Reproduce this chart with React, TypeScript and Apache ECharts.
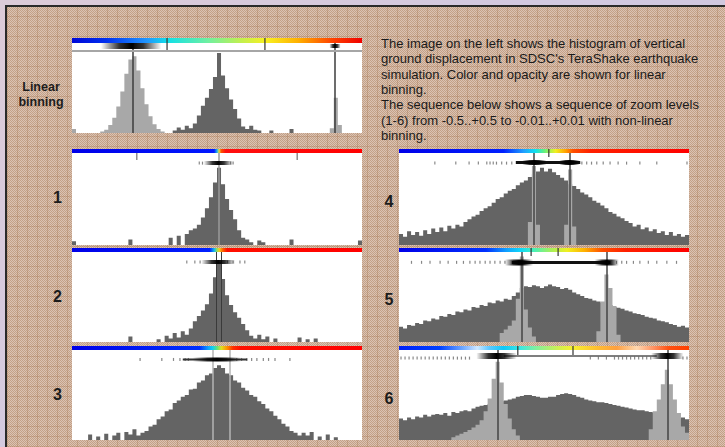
import React, { useEffect, useRef } from "react";
import * as echarts from "echarts";

const NB = 72; // bins per histogram

// ---------- histogram data (bin index 0..71) ----------
const TOP_DARK = [
  0,0,0,0,0,0,0,0,0,0, 0,0,0,0,0,0,0,0,0,0, 0,0,0,0,0,3,7,4,9,6,
  12,22,34,44,55,70,100,72,56,42, 30,18,8,5,9,4,3,0,0,3, 0,0,0,0,5,0,0,0,0,0,
  0,0,0,0,0,0,0,0,0,0, 0,0];
const TOP_LIGHT = [
  5,0,0,0,0,0,0,2,4,10, 19,33,52,74,92,96,78,56,36,21, 11,5,2,0,0,0,0,0,0,0,
  0,0,0,0,0,0,0,0,0,0, 0,0,0,0,0,0,0,0,0,0, 0,0,0,0,0,0,0,0,0,0,
  0,0,0,0,6,44,10,0,0,0, 0,0];
const P1_DARK = [
  4,0,0,0,0,0,0,0,0,0, 0,0,0,0,6,0,0,0,0,0, 0,0,0,0,8,0,10,0,12,16,
  18,22,30,40,52,68,84,66,50,38, 28,16,8,6,3,0,5,3,0,0, 0,0,0,0,6,0,0,0,0,0,
  0,0,0,0,0,0,0,0,0,0, 0,5];
const P2_DARK = [
  0,0,0,0,0,0,0,0,0,0, 0,0,0,0,6,0,0,0,0,0, 0,3,0,7,4,10,5,12,8,15,
  23,29,35,42,54,72,89,70,52,41, 33,27,20,13,7,4,8,3,6,0, 4,0,0,0,0,0,5,0,3,0,
  4,0,0,0,0,0,0,0,0,0, 0,0];
const P3_DARK = [
  0,0,0,0,6,0,4,0,7,0, 5,8,0,9,6,12,5,8,10,15, 17,23,26,32,34,41,44,48,50,56,
  57,64,66,72,74,80,83,80,74,72, 66,64,58,55,50,48,43,40,35,32, 27,23,18,15,10,8,5,8,5,9,
  0,4,0,6,0,3,0,0,0,0, 0,0];
const P4_DARK = [
  12,9,15,11,14,10,16,12,18,14, 19,15,21,18,22,20,25,28,31,33, 37,40,42,46,50,52,56,59,61,65,
  68,70,74,77,80,84,80,83,79,76, 73,70,66,64,61,57,55,52,48,46, 43,40,36,34,31,29,26,24,20,22,
  17,19,15,17,13,15,11,14,10,12, 9,11];
const P4_LIGHT = [
  0,0,0,0,0,0,0,0,0,0, 0,0,0,0,0,0,0,0,0,0, 0,0,0,0,0,0,0,0,0,0,
  0,0,25,86,22,0,0,0,0,0, 0,22,82,20,0,0,0,0,0,0, 0,0,0,0,0,0,0,0,0,0,
  0,0,0,0,0,0,0,0,0,0, 0,0];
const P5_DARK = [
  17,15,19,18,21,20,24,23,26,25, 29,28,31,30,34,33,36,35,39,38, 41,40,44,43,46,45,48,47,51,55,
  60,62,61,63,62,60,62,64,62,61, 59,60,58,55,53,51,49,48,46,45, 44,42,41,39,38,37,35,34,32,31,
  30,28,27,26,24,23,22,20,19,17, 18,16];
const P5_LIGHT = [
  0,0,0,0,0,0,0,0,0,0, 0,0,0,0,0,0,0,0,0,0, 0,0,0,0,0,10,14,18,24,48,
  95,36,16,6,0,0,0,0,0,0, 0,0,0,0,0,0,0,0,0,12, 45,75,60,40,8,0,0,0,0,0,
  0,0,0,0,0,0,0,0,0,0, 0,0];
const P6_DARK = [
  24,22,25,23,26,25,28,26,28,29, 28,30,27,31,30,32,33,32,35,37, 38,39,40,41,42,43,44,45,46,48,
  49,50,50,49,48,47,47,48,48,50, 51,52,51,50,48,47,45,44,43,42, 42,41,40,39,38,37,36,35,34,33,
  33,32,31,30,29,28,27,26,25,24, 25,23];
const P6_LIGHT = [
  0,0,0,0,0,0,0,0,0,0, 0,0,0,3,5,7,9,11,14,17, 22,32,46,68,87,64,40,24,12,5,
  0,0,0,0,0,0,0,0,0,0, 0,0,0,0,0,0,0,0,0,0, 0,0,0,0,0,0,0,0,0,0,
  0,0,12,32,45,62,78,62,45,30, 15,8];
const ZERO = new Array(NB).fill(0);

// vertical marker positions (bin units)
const TOP_LINES = [15.1, 65.3];
const P1_LINES = [36.5];
const P2_LINES = [35.7, 37.0];
const P3_LINES = [35.0, 39.2];
const P4_LINES = [33.5, 42.3];
const P5_LINES = [30.4, 51.6];
const P6_LINES = [24.4, 66.6];

// small tick dots in the opacity strip (bin units)
const P1_DOTS = [31.6, 32.4, 39.4, 40.0];
const P2_DOTS = [28.5, 30.5, 31.8, 38.6, 40, 41.7, 42.9];
const P3_DOTS = [16.9, 22.3, 25.2, 26.8, 28.1, 28.9, 40.9, 42.1, 43.4, 44.6, 45.9, 47.5, 48.8, 50.4, 54.1];
const P4_DOTS = [8.9, 14.1, 17.4, 19.7, 21.8, 22.6, 23.4, 24.2, 25.5, 26.7, 28, 45.4, 46.6, 47.8, 49.1, 50.7, 52.4, 54.4, 56.5, 59.8, 64, 71.5];
const P5_DOTS = [3.1, 5.6, 7.7, 10.2, 12.2, 14.3, 16, 17.6, 18.9, 20.1, 21.4, 22.6, 23.8, 25.1, 26.3, 54, 55.3, 56.5, 58.2, 59.8, 61.9, 64, 66.5, 68.9];
const P6_DOTS = [0.5, 1.5, 2.5, 3.5, 4.5, 5.5, 6.5, 7.5, 8.5, 9.5, 10.5, 11.5, 12.5, 13.5, 14.5, 15.5, 16.5, 17.5,
  47.5, 49.5, 51.5, 53.5, 54.5, 55.5, 56.5, 57.5, 58.5, 59.5, 60.5, 61.5, 62.5, 70.5, 71.5];

// colour bars (offset, colour)
const TOP_STOPS: [number, string][] = [[0, "#0008d8"], [0.12, "#0030f0"], [0.26, "#2098ff"], [0.33, "#10e0e8"], [0.47, "#70f0a0"], [0.58, "#c0f050"], [0.67, "#f8f020"], [0.78, "#ffb000"], [0.9, "#ff4000"], [1, "#f00000"]];
const P1_STOPS: [number, string][] = [[0, "#0000e8"], [0.49, "#0018ff"], [0.5, "#20b0f0"], [0.507, "#e0e040"], [0.515, "#ff5000"], [0.53, "#ff1010"], [1, "#ff0000"]];
const P2_STOPS: [number, string][] = [[0, "#0000e8"], [0.475, "#0020ff"], [0.49, "#10b8f0"], [0.5, "#90e060"], [0.508, "#f0d020"], [0.52, "#ff6000"], [0.535, "#ff1000"], [1, "#ff0000"]];
const P3_STOPS: [number, string][] = [[0, "#0000e8"], [0.44, "#0030ff"], [0.47, "#10a0ff"], [0.485, "#10d0f0"], [0.5, "#60e080"], [0.515, "#e0e020"], [0.535, "#ff9000"], [0.555, "#ff3000"], [0.58, "#ff1000"], [1, "#ff0000"]];
const P4_STOPS: [number, string][] = [[0, "#0000e8"], [0.36, "#0020ff"], [0.43, "#20a0ff"], [0.47, "#10e0f0"], [0.5, "#60f080"], [0.54, "#f0f020"], [0.575, "#ffa000"], [0.6, "#ff5000"], [0.66, "#ff2000"], [1, "#ff0000"]];
const P5_STOPS: [number, string][] = [[0, "#0000e8"], [0.3, "#0030ff"], [0.37, "#10a0ff"], [0.42, "#10d8f8"], [0.46, "#40f0c0"], [0.52, "#a0f060"], [0.58, "#f0f020"], [0.64, "#ffb000"], [0.7, "#ff5000"], [0.78, "#ff2000"], [1, "#ff0000"]];
const P6_STOPS: [number, string][] = [[0, "#0020f8"], [0.14, "#0040ff"], [0.22, "#70a8ff"], [0.27, "#d0e8ff"], [0.31, "#60c8ff"], [0.36, "#10c8f8"], [0.42, "#40e8e0"], [0.47, "#80f0a0"], [0.55, "#d0f050"], [0.6, "#f8f030"], [0.68, "#ffc030"], [0.75, "#ffa040"], [0.82, "#ffd8b0"], [0.88, "#ff9060"], [0.93, "#ff5010"], [1, "#ff4000"]];

const PARAGRAPH = [
  "The image on the left shows the histogram of vertical",
  "ground displacement in SDSC's TeraShake earthquake",
  "simulation. Color and opacity are shown for linear",
  "binning.",
  "The sequence below shows a sequence of zoom levels",
  "(1-6) from -0.5..+0.5 to -0.01..+0.01 with non-linear",
  "binning.",
];
const ROW_LABELS = ["1", "2", "3", "4", "5", "6"];

type Blob = { c: number; hw: number; h: number };
type Panel = {
  x: number; w: number; barY: number; barH: number; top: number; bottom: number; yMax: number;
  stripY: number; dotV: number; dark: number[]; light: number[]; lines: number[]; lineColor: string;
  lineWidth: number; dots: number[]; stops: [number, string][]; dividers: number[]; divEnd: number;
  blobs: Blob[]; bar?: { from: number; to: number; h: number; color: string };
};

const PANELS: Panel[] = [
  { x: 72, w: 290, barY: 38, barH: 5, top: 43, bottom: 133, yMax: 112.5, stripY: 46, dotV: 0,
    dark: TOP_DARK, light: TOP_LIGHT, lines: TOP_LINES, lineColor: "#3c3c3c", lineWidth: 1.5, dots: [],
    stops: TOP_STOPS, dividers: [23.6, 47.9], divEnd: 50, blobs: [{ c: 14.7, hw: 7.5, h: 6 }, { c: 65.3, hw: 1.4, h: 4 }] },
  { x: 72, w: 290, barY: 149, barH: 4, top: 153, bottom: 245, yMax: 100, stripY: 163, dotV: 89,
    dark: P1_DARK, light: ZERO, lines: P1_LINES, lineColor: "#9a9a9a", lineWidth: 1.5, dots: P1_DOTS,
    stops: P1_STOPS, dividers: [], divEnd: 0, blobs: [{ c: 36.3, hw: 3.6, h: 4 }] },
  { x: 72, w: 290, barY: 248, barH: 4, top: 252, bottom: 342, yMax: 100, stripY: 262, dotV: 89,
    dark: P2_DARK, light: ZERO, lines: P2_LINES, lineColor: "#3a3a3a", lineWidth: 1, dots: P2_DOTS,
    stops: P2_STOPS, dividers: [], divEnd: 0, blobs: [{ c: 36.3, hw: 4.2, h: 4 }] },
  { x: 72, w: 290, barY: 346, barH: 4, top: 350, bottom: 440, yMax: 100, stripY: 359.5, dotV: 89.5,
    dark: P3_DARK, light: ZERO, lines: P3_LINES, lineColor: "#b4b4b4", lineWidth: 1.5, dots: P3_DOTS,
    stops: P3_STOPS, dividers: [], divEnd: 0, blobs: [{ c: 36, hw: 6, h: 4 }],
    bar: { from: 27.5, to: 43.5, h: 2, color: "#333" } },
  { x: 399, w: 290, barY: 149, barH: 4, top: 153, bottom: 245, yMax: 100, stripY: 162.5, dotV: 89,
    dark: P4_DARK, light: P4_LIGHT, lines: P4_LINES, lineColor: "#454545", lineWidth: 1.5, dots: P4_DOTS,
    stops: P4_STOPS, dividers: [37.2], divEnd: 157, blobs: [{ c: 33.6, hw: 3, h: 5 }, { c: 42.3, hw: 2.5, h: 5 }],
    bar: { from: 29, to: 45, h: 3, color: "#111" } },
  { x: 399, w: 290, barY: 248, barH: 4, top: 252, bottom: 342, yMax: 100, stripY: 262.5, dotV: 88.5,
    dark: P5_DARK, light: P5_LIGHT, lines: P5_LINES, lineColor: "#454545", lineWidth: 1.5, dots: P5_DOTS,
    stops: P5_STOPS, dividers: [32.8, 39.5], divEnd: 256, blobs: [{ c: 29.8, hw: 3.5, h: 6 }, { c: 51.6, hw: 3, h: 6 }],
    bar: { from: 28, to: 52.5, h: 3, color: "#111" } },
  { x: 399, w: 290, barY: 346, barH: 4, top: 350, bottom: 440, yMax: 100, stripY: 356, dotV: 91,
    dark: P6_DARK, light: P6_LIGHT, lines: P6_LINES, lineColor: "#454545", lineWidth: 1.5, dots: P6_DOTS,
    stops: P6_STOPS, dividers: [29.5, 43.2], divEnd: 355, blobs: [{ c: 24.2, hw: 5, h: 6 }, { c: 66.6, hw: 4, h: 6 }],
    bar: { from: 26, to: 64, h: 1.5, color: "#555" } },
];

const FONT = "'Liberation Sans', Arial, Helvetica, sans-serif";
const DARK = "#646464";
const LIGHT = "#a8a8a8";

function px(p: Panel, u: number) {
  return p.x + (u * p.w) / NB;
}

// histogram as a seamless stepped area: bin i spans [i, i+1]
function stepData(vals: number[]) {
  const d: number[][] = vals.map((v, i) => [i, v]);
  d.push([NB, vals[NB - 1]]);
  return d;
}

function histSeries(i: number, vals: number[], color: string, z: number) {
  return {
    type: "line", xAxisIndex: i, yAxisIndex: i, step: "end", silent: true, z,
    showSymbol: false, symbol: "none", data: stepData(vals),
    lineStyle: { width: 0, opacity: 0 },
    areaStyle: { color, opacity: 1, origin: "start" },
  };
}

function buildOption() {
  const grid: any[] = [];
  const xAxis: any[] = [];
  const yAxis: any[] = [];
  const series: any[] = [];
  const graphic: any[] = [];

  PANELS.forEach((p, i) => {
    grid.push({ left: p.x, top: p.top, width: p.w, height: p.bottom - p.top, show: true,
      backgroundColor: "#ffffff", borderWidth: 0 });
    xAxis.push({ gridIndex: i, type: "value", min: 0, max: NB, show: false });
    yAxis.push({ gridIndex: i, type: "value", min: 0, max: p.yMax, show: false });
    series.push(histSeries(i, p.dark, DARK, 2));
    if (p.light.some((v) => v > 0)) series.push(histSeries(i, p.light, LIGHT, 3));
    series.push({
      type: "scatter", xAxisIndex: i, yAxisIndex: i, silent: true, symbol: "rect",
      symbolSize: [1.2, 3], itemStyle: { color: "#6a6a6a" }, z: 4,
      data: p.dots.map((u) => [u, p.dotV]),
      markLine: {
        silent: true, symbol: "none", label: { show: false }, animation: false,
        lineStyle: { color: p.lineColor, width: p.lineWidth, type: "solid" },
        data: p.lines.map((u) => ({ xAxis: u })),
      },
    });

    // colour bar
    graphic.push({
      type: "rect", z: 60, silent: true,
      shape: { x: p.x, y: p.barY, width: p.w, height: p.barH },
      style: { fill: new echarts.graphic.LinearGradient(0, 0, 1, 0,
        p.stops.map(([o, c]) => ({ offset: o, color: c }))) },
    });
    p.dividers.forEach((u) => {
      graphic.push({ type: "line", z: 61, silent: true,
        shape: { x1: px(p, u), y1: p.barY, x2: px(p, u), y2: p.divEnd },
        style: { stroke: "#333", lineWidth: 1.2 } });
    });
    if (p.bar) {
      graphic.push({ type: "rect", z: 61, silent: true,
        shape: { x: px(p, p.bar.from), y: p.stripY - p.bar.h / 2, width: px(p, p.bar.to) - px(p, p.bar.from), height: p.bar.h },
        style: { fill: p.bar.color } });
    }
    p.blobs.forEach((b) => {
      graphic.push({ type: "rect", z: 62, silent: true,
        shape: { x: px(p, b.c - b.hw), y: p.stripY - b.h / 2, width: px(p, b.c + b.hw) - px(p, b.c - b.hw), height: b.h },
        style: { fill: new echarts.graphic.LinearGradient(0, 0, 1, 0, [
          { offset: 0, color: "rgba(0,0,0,0)" }, { offset: 0.3, color: "rgba(0,0,0,0.8)" },
          { offset: 0.5, color: "rgba(0,0,0,1)" }, { offset: 0.7, color: "rgba(0,0,0,0.8)" },
          { offset: 1, color: "rgba(0,0,0,0)" }]) } });
    });
  });

  // ruler line of the linear panel
  const t = PANELS[0];
  graphic.push({ type: "line", z: 61, silent: true,
    shape: { x1: t.x, y1: 51, x2: t.x + t.w, y2: 51 }, style: { stroke: "#a6a6a6", lineWidth: 2 } });
  // axis ticks under colour bar of panel 1
  const p1 = PANELS[1];
  [16.1, 55.9].forEach((u) => {
    graphic.push({ type: "line", z: 61, silent: true,
      shape: { x1: px(p1, u), y1: 153, x2: px(p1, u), y2: 160 }, style: { stroke: "#555", lineWidth: 1 } });
  });

  // texts
  graphic.push({ type: "text", z: 70, silent: true, x: 41, y: 87,
    style: { text: "Linear", font: `bold 12.5px ${FONT}`, fill: "#1c1c1c", align: "center", verticalAlign: "middle" } });
  graphic.push({ type: "text", z: 70, silent: true, x: 41, y: 101.5,
    style: { text: "binning", font: `bold 12.5px ${FONT}`, fill: "#1c1c1c", align: "center", verticalAlign: "middle" } });
  const labelPos = [[57.5, 197], [57.5, 296], [57.5, 394], [389, 201], [389, 299], [389, 398]];
  ROW_LABELS.forEach((s, k) => {
    graphic.push({ type: "text", z: 70, silent: true, x: labelPos[k][0], y: labelPos[k][1],
      style: { text: s, font: `bold 16px ${FONT}`, fill: "#1c1c1c", align: "center", verticalAlign: "middle" } });
  });
  PARAGRAPH.forEach((line, k) => {
    graphic.push({ type: "text", z: 70, silent: true, x: 381, y: 43.5 + k * 15.3,
      style: { text: line, font: `13px ${FONT}`, fill: "#1a1a1a", align: "left", verticalAlign: "middle" } });
  });

  return { animation: false, grid, xAxis, yAxis, series, graphic };
}

export default function App() {
  const ref = useRef<HTMLDivElement>(null);
  useEffect(() => {
    if (!ref.current) return;
    const chart = echarts.init(ref.current, undefined, { renderer: "svg" });
    chart.setOption(buildOption() as any);
    return () => chart.dispose();
  }, []);
  return (
    <div style={{ position: "fixed", left: 0, top: 0, width: 725, height: 447, overflow: "hidden",
      background: "linear-gradient(135deg, #dccbd8 0%, #d2c9e0 45%, #cec7df 100%)" }}>
      <div style={{ position: "absolute", left: 5, top: 5, right: 0, bottom: 0,
        borderLeft: "2px solid #2a2a2a", borderTop: "2px solid #2a2a2a",
        backgroundColor: "#c3a187",
        backgroundImage: "repeating-linear-gradient(0deg, rgba(160,110,70,0.28) 0px, rgba(160,110,70,0.28) 1px, transparent 1px, transparent 10px), repeating-linear-gradient(90deg, rgba(160,110,70,0.28) 0px, rgba(160,110,70,0.28) 1px, transparent 1px, transparent 10px), conic-gradient(rgba(242,228,224,0.5) 25%, transparent 0 50%, rgba(242,228,224,0.5) 0 75%, transparent 0)",
        backgroundSize: "auto, auto, 2px 2px" }} />
      <div ref={ref} style={{ position: "absolute", left: 0, top: 0, width: 725, height: 447 }} />
    </div>
  );
}
